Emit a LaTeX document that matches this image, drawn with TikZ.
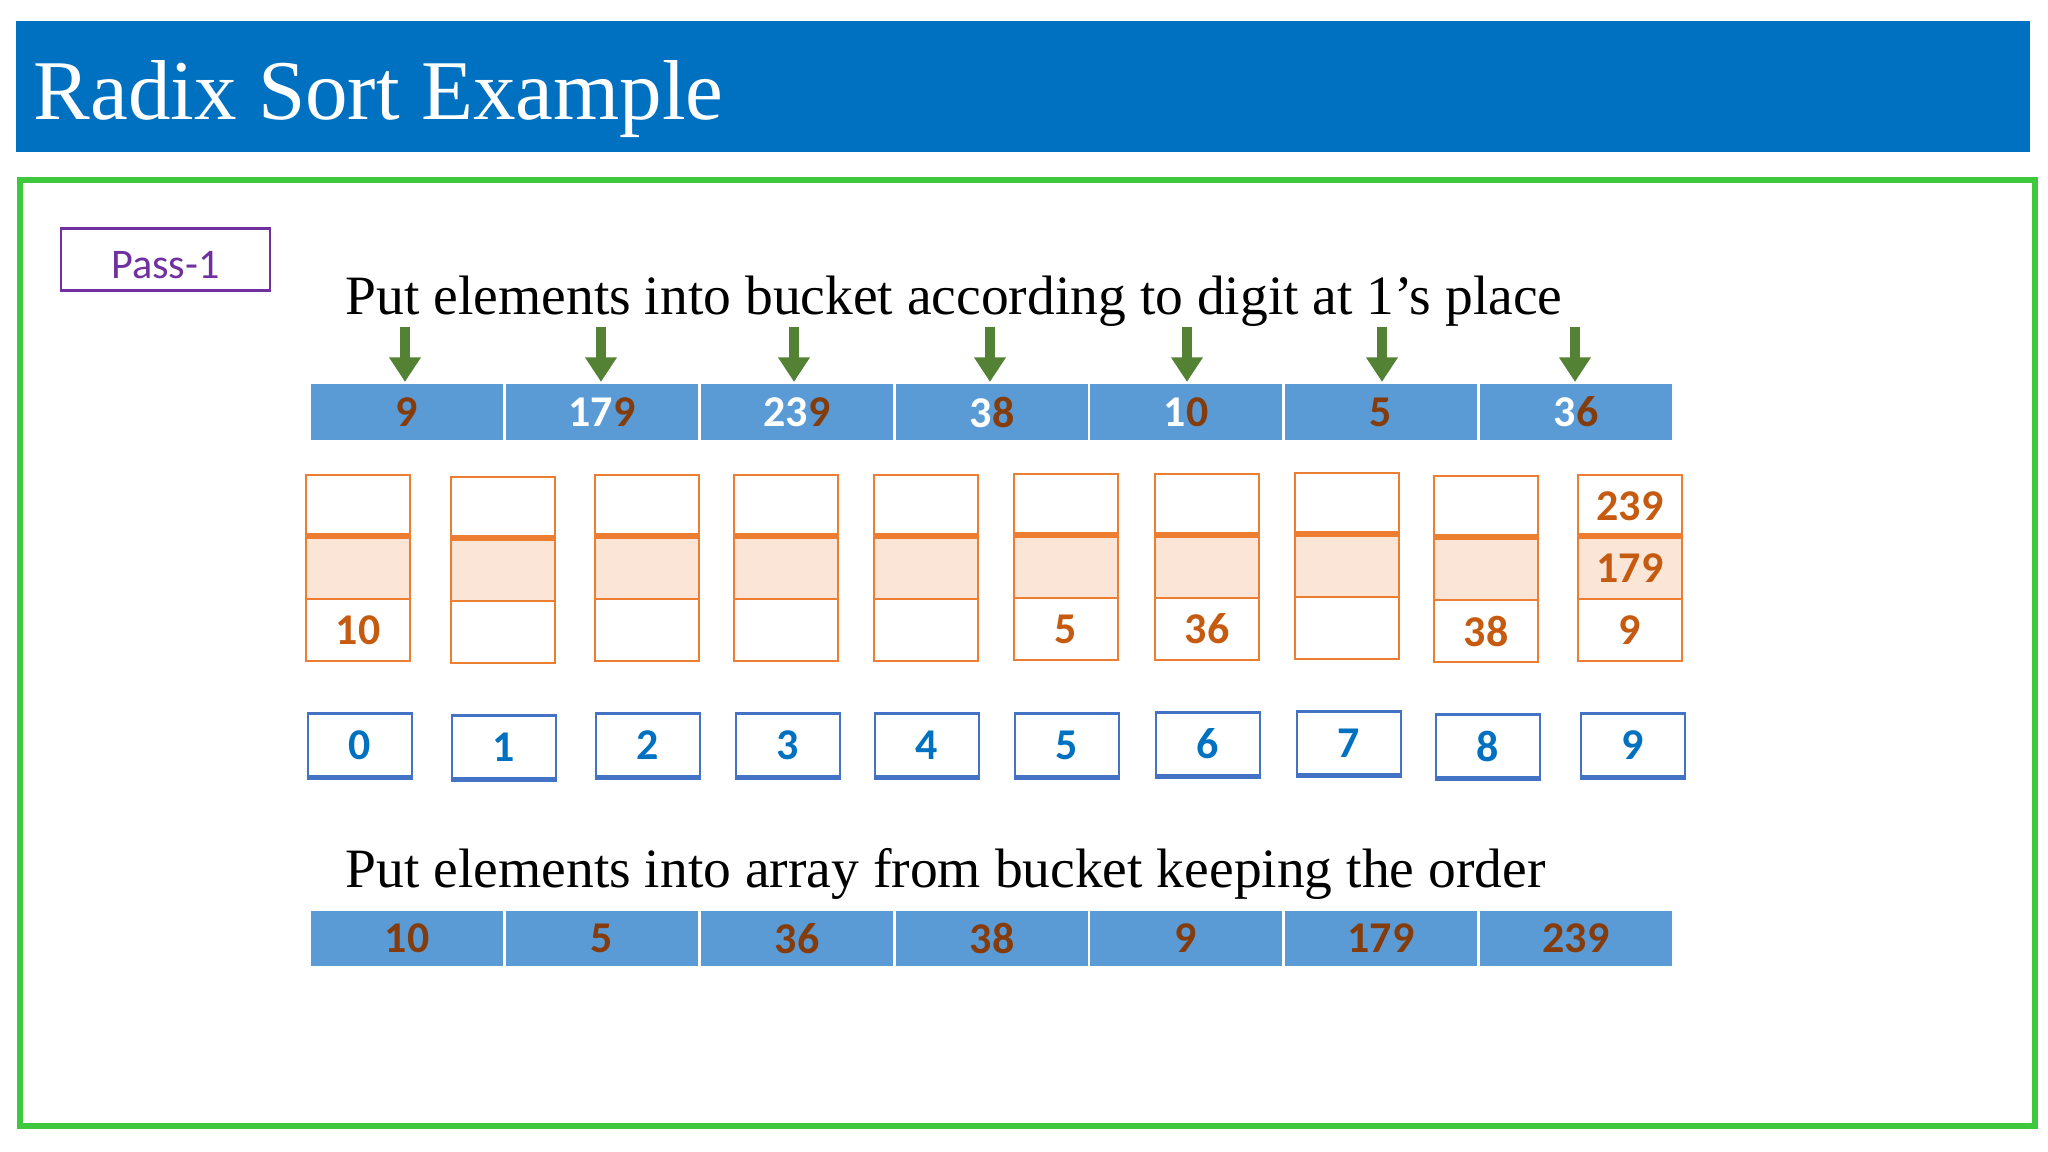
\documentclass[tikz,border=0pt]{standalone}
\usepackage{fontspec}
\setmainfont{Liberation Serif}
\newfontfamily\calibri{Carlito}
\usepackage{xcolor}
\usepackage{tikz}
\usetikzlibrary{arrows.meta,positioning}

\definecolor{titleblue}{HTML}{0070C0}
\definecolor{framegreen}{HTML}{3EC83E}
\definecolor{passpurple}{HTML}{7030A0}
\definecolor{cellblue}{HTML}{5B9BD5}
\definecolor{digitbrown}{HTML}{843C0C}
\definecolor{arrowgreen}{HTML}{548235}
\definecolor{bucketorange}{HTML}{ED7D31}
\definecolor{bucketpeach}{HTML}{FBE5D6}
\definecolor{bucketnum}{HTML}{C55A11}
\definecolor{indexblue}{HTML}{4472C4}

\newcommand{\ones}[1]{\textcolor{digitbrown}{#1}}

\begin{document}
\begin{tikzpicture}[
  num/.style={font=\calibri\bfseries\fontsize{12.5}{14}\selectfont, inner sep=0pt},
  head/.style={anchor=west, inner sep=0pt, font=\fontsize{15.8}{19}\selectfont},
  cell/.style={num, rectangle, draw=white, line width=0.6pt, fill=cellblue, text=white,
               minimum width=19.47mm, minimum height=5.8mm},
  outcell/.style={cell, text=digitbrown},
  bk/.style={num, rectangle, draw=bucketorange, line width=0.7pt, text=bucketnum,
             minimum width=10.45mm, minimum height=6.2mm},
  bkmid/.style={bk, fill=bucketpeach,
                append after command={(\tikzlastnode.north west) edge[draw=bucketorange, line width=1.6pt] (\tikzlastnode.north east)}},
  idx/.style={num, rectangle, draw=indexblue, line width=0.6pt, text=titleblue,
              minimum width=10.45mm, minimum height=6.3mm,
              append after command={(\tikzlastnode.south west) edge[draw=indexblue, line width=1.6pt] (\tikzlastnode.south east)}},
  garr/.style={-{Triangle[width=8.6pt,length=7pt]}, line width=2.7pt, arrowgreen},
]
\useasboundingbox (0,0) rectangle (20.48,-11.52);
\fill[titleblue] (0.16,-0.21) rectangle (20.30,-1.52);
\node[anchor=west, inner sep=0pt, text=white, font=\fontsize{24.2}{28}\selectfont] (title) at (0.33,-0.99) {Radix Sort Example};
\draw[framegreen, line width=1.5pt] (0.20,-1.80) rectangle (20.35,-11.26);

\node[draw=passpurple, line width=0.6pt, minimum width=20.9mm, minimum height=6.1mm, text=passpurple,
      font=\calibri\fontsize{12}{14}\selectfont, text height=11pt, text depth=0pt] (pass) at (1.655,-2.595) {Pass-1};

\node[head] (H1) at (3.45,-3.01) {Put elements into bucket according to digit at 1’s place};

\node[cell] (A1) at ( 4.07,-4.12) {\ones{9}};
\node[cell] (A2) at ( 6.02,-4.12) {17\ones{9}};
\node[cell] (A3) at ( 7.97,-4.12) {23\ones{9}};
\node[cell] (A4) at ( 9.92,-4.12) {3\ones{8}};
\node[cell] (A5) at (11.86,-4.12) {1\ones{0}};
\node[cell] (A6) at (13.81,-4.12) {\ones{5}};
\node[cell] (A7) at (15.76,-4.12) {3\ones{6}};

\coordinate (T1) at ( 4.05,-3.27);
\coordinate (T2) at ( 6.01,-3.27);
\coordinate (T3) at ( 7.94,-3.27);
\coordinate (T4) at ( 9.90,-3.27);
\coordinate (T5) at (11.87,-3.27);
\coordinate (T6) at (13.82,-3.27);
\coordinate (T7) at (15.75,-3.27);
\draw[garr] (T1) -- (A1.north -| T1);
\draw[garr] (T2) -- (A2.north -| T2);
\draw[garr] (T3) -- (A3.north -| T3);
\draw[garr] (T4) -- (A4.north -| T4);
\draw[garr] (T5) -- (A5.north -| T5);
\draw[garr] (T6) -- (A6.north -| T6);
\draw[garr] (T7) -- (A7.north -| T7);

\node[bk] (B0a) at ( 3.58,-5.06) {};    \node[bkmid] (B0b) at ( 3.58,-5.68) {};    \node[bk] (B0c) at ( 3.58,-6.30) {10};
\node[bk] (B1a) at ( 5.03,-5.08) {};    \node[bkmid] (B1b) at ( 5.03,-5.70) {};    \node[bk] (B1c) at ( 5.03,-6.32) {};
\node[bk] (B2a) at ( 6.47,-5.06) {};    \node[bkmid] (B2b) at ( 6.47,-5.68) {};    \node[bk] (B2c) at ( 6.47,-6.30) {};
\node[bk] (B3a) at ( 7.86,-5.06) {};    \node[bkmid] (B3b) at ( 7.86,-5.68) {};    \node[bk] (B3c) at ( 7.86,-6.30) {};
\node[bk] (B4a) at ( 9.26,-5.06) {};    \node[bkmid] (B4b) at ( 9.26,-5.68) {};    \node[bk] (B4c) at ( 9.26,-6.30) {};
\node[bk] (B5a) at (10.66,-5.05) {};    \node[bkmid] (B5b) at (10.66,-5.67) {};    \node[bk] (B5c) at (10.66,-6.29) {5};
\node[bk] (B6a) at (12.07,-5.05) {};    \node[bkmid] (B6b) at (12.07,-5.67) {};    \node[bk] (B6c) at (12.07,-6.29) {36};
\node[bk] (B7a) at (13.47,-5.04) {};    \node[bkmid] (B7b) at (13.47,-5.66) {};    \node[bk] (B7c) at (13.47,-6.28) {};
\node[bk] (B8a) at (14.86,-5.07) {};    \node[bkmid] (B8b) at (14.86,-5.69) {};    \node[bk] (B8c) at (14.86,-6.31) {38};
\node[bk] (B9a) at (16.30,-5.06) {239}; \node[bkmid] (B9b) at (16.30,-5.68) {179}; \node[bk] (B9c) at (16.30,-6.30) {9};

\node[idx] (K0) at ( 3.60,-7.45) {0};
\node[idx] (K1) at ( 5.04,-7.47) {1};
\node[idx] (K2) at ( 6.48,-7.45) {2};
\node[idx] (K3) at ( 7.88,-7.45) {3};
\node[idx] (K4) at ( 9.27,-7.45) {4};
\node[idx] (K5) at (10.67,-7.45) {5};
\node[idx] (K6) at (12.08,-7.44) {6};
\node[idx] (K7) at (13.49,-7.43) {7};
\node[idx] (K8) at (14.88,-7.46) {8};
\node[idx] (K9) at (16.33,-7.45) {9};

\node[head] (H2) at (3.45,-8.74) {Put elements into array from bucket keeping the order};

\node[outcell] (R1) at ( 4.07,-9.385) {10};
\node[outcell] (R2) at ( 6.02,-9.385) {5};
\node[outcell] (R3) at ( 7.97,-9.385) {36};
\node[outcell] (R4) at ( 9.92,-9.385) {38};
\node[outcell] (R5) at (11.86,-9.385) {9};
\node[outcell] (R6) at (13.81,-9.385) {179};
\node[outcell] (R7) at (15.76,-9.385) {239};
\end{tikzpicture}
\end{document}
